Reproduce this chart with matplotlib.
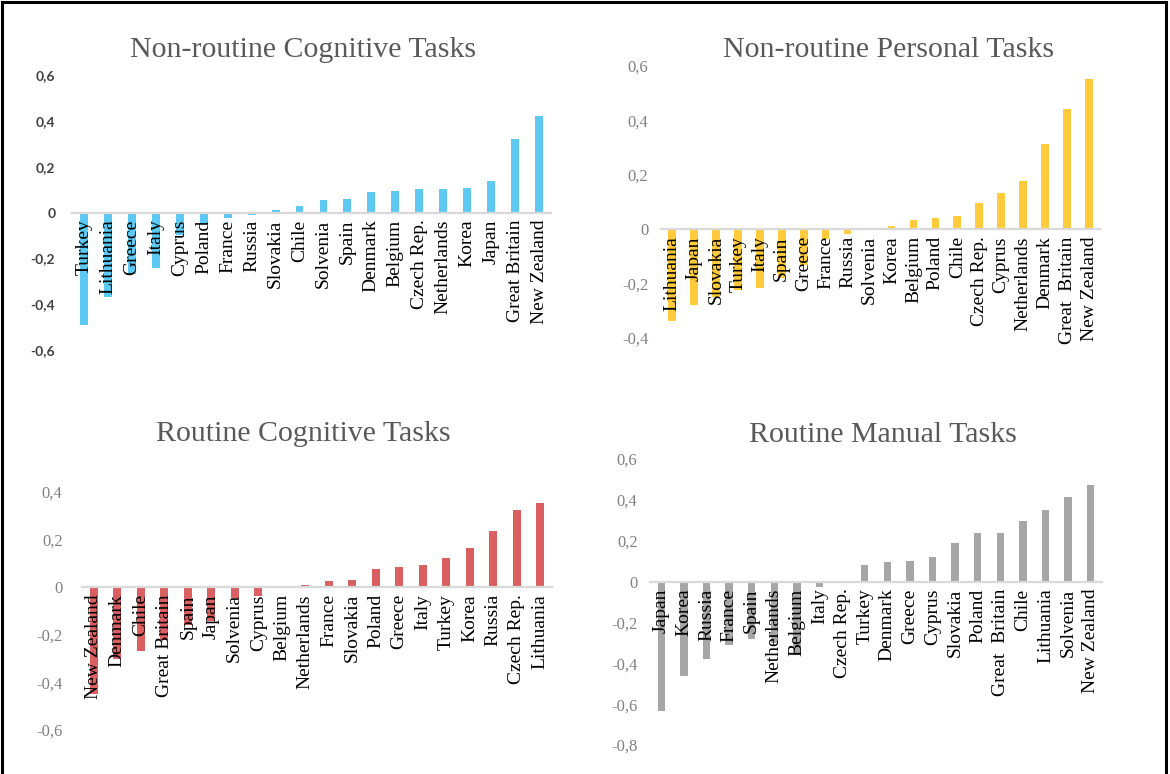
import matplotlib
matplotlib.use("Agg")
import matplotlib.pyplot as plt
from matplotlib.lines import Line2D
import numpy as np

W, H = 1170, 774

# ---- data ----
nrc_cats = ["Turkey", "Lithuania", "Greece", "Italy", "Cyprus", "Poland", "France", "Russia",
            "Slovakia", "Chile", "Solvenia", "Spain", "Denmark", "Belgium", "Czech Rep.",
            "Netherlands", "Korea", "Japan", "Great Britain", "New Zealand"]
nrc_vals = [-0.49, -0.37, -0.27, -0.24, -0.10, -0.05, -0.025, -0.012, 0.01, 0.028, 0.053,
            0.058, 0.088, 0.095, 0.104, 0.104, 0.107, 0.136, 0.32, 0.42]

nrp_cats = ["Lithuania", "Japan", "Slovakia", "Turkey", "Italy", "Spain", "Greece", "France",
            "Russia", "Solvenia", "Korea", "Belgium", "Poland", "Chile", "Czech Rep.", "Cyprus",
            "Netherlands", "Denmark", "Great  Britain", "New Zealand"]
nrp_vals = [-0.336, -0.28, -0.25, -0.225, -0.217, -0.18, -0.13, -0.037, -0.017, 0.005, 0.012,
            0.032, 0.04, 0.049, 0.096, 0.132, 0.178, 0.314, 0.441, 0.551]

rc_cats = ["New Zealand", "Denmark", "Chile", "Great Britain", "Spain", "Japan", "Solvenia",
           "Cyprus", "Belgium", "Netherlands", "France", "Slovakia", "Poland", "Greece", "Italy",
           "Turkey", "Korea", "Russia", "Czech Rep.", "Lithuania"]
rc_vals = [-0.45, -0.30, -0.266, -0.22, -0.16, -0.14, -0.045, -0.038, -0.004, 0.008, 0.028,
           0.031, 0.078, 0.084, 0.094, 0.124, 0.164, 0.235, 0.323, 0.352]

rm_cats = ["Japan", "Korea", "Russia", "France", "Spain", "Netherlands", "Belgium", "Italy",
           "Czech Rep.", "Turkey", "Denmark", "Greece", "Cyprus", "Slovakia", "Poland",
           "Great  Britain", "Chile", "Lithuania", "Solvenia", "New Zealand"]
rm_vals = [-0.632, -0.462, -0.381, -0.31, -0.28, -0.30, -0.36, -0.025, 0.005, 0.082, 0.096,
           0.101, 0.121, 0.191, 0.239, 0.239, 0.296, 0.351, 0.413, 0.471]

titles = ["Non-routine Cognitive Tasks", "Non-routine Personal Tasks",
          "Routine Cognitive Tasks", "Routine Manual Tasks"]
ticks_nrc = [-0.6, -0.4, -0.2, 0.0, 0.2, 0.4, 0.6]
ticks_nrp = [-0.4, -0.2, 0.0, 0.2, 0.4, 0.6]
ticks_rc = [-0.6, -0.4, -0.2, 0.0, 0.2, 0.4]
ticks_rm = [-0.8, -0.6, -0.4, -0.2, 0.0, 0.2, 0.4, 0.6]


def fmt(v):
    if abs(v) < 1e-9:
        return "0"
    return f"{v:.1f}".replace(".", ",")


SERIF = ["Liberation Serif", "DejaVu Serif"]

fig = plt.figure(figsize=(W / 100, H / 100), dpi=100)
fig.patch.set_facecolor("white")


def px_axes(x0, x1, y0, y1):
    return fig.add_axes([x0 / W, 1 - y1 / H, (x1 - x0) / W, (y1 - y0) / H])


panels = [
    dict(cats=nrc_cats, vals=nrc_vals, ticks=ticks_nrc, color="#5BC9F1", box=(72, 551, 75, 350),
         title_xy=(303, 50), sans=True, width=0.33, ypad=12),
    dict(cats=nrp_cats, vals=nrp_vals, ticks=ticks_nrp, color="#FFCB3D", box=(661, 1100, 66, 338),
         title_xy=(889, 50), sans=False, width=0.35, ypad=9),
    dict(cats=rc_cats, vals=rc_vals, ticks=ticks_rc, color="#D95F60", box=(82, 552, 492, 730),
         title_xy=(303, 434), sans=False, width=0.33, ypad=14),
    dict(cats=rm_cats, vals=rm_vals, ticks=ticks_rm, color="#A6A6A6", box=(650, 1102, 459, 745),
         title_xy=(883, 435), sans=False, width=0.33, ypad=9),
]

for p, title in zip(panels, titles):
    x0, x1, y0, y1 = p["box"]
    ax = px_axes(x0, x1, y0, y1)
    x = np.arange(len(p["cats"]))
    ax.bar(x, p["vals"], width=p["width"], color=p["color"], zorder=1)
    ax.set_xlim(-0.5, len(p["cats"]) - 0.5)
    ax.set_ylim(p["ticks"][0], p["ticks"][-1])
    for s in ["top", "right", "left"]:
        ax.spines[s].set_visible(False)
    ax.spines["bottom"].set_position(("data", 0))
    ax.spines["bottom"].set_color("#D9D9D9")
    ax.spines["bottom"].set_linewidth(1.6)
    ax.set_xticks(x)
    ax.set_xticklabels(p["cats"], rotation=90, fontfamily=SERIF, fontsize=14,
                       color="black", va="top", ha="center")
    ax.tick_params(axis="x", length=0, pad=5)
    ax.set_yticks(p["ticks"])
    if p["sans"]:
        ax.set_yticklabels([fmt(t) for t in p["ticks"]], fontfamily=["Lato", "DejaVu Sans"],
                           fontweight="bold", fontsize=10, color="#404040")
    else:
        ax.set_yticklabels([fmt(t) for t in p["ticks"]], fontfamily=SERIF, fontsize=12,
                           color="#808080")
    ax.tick_params(axis="y", length=0, pad=p["ypad"])
    ax.set_facecolor("none")
    tx, ty = p["title_xy"]
    fig.text(tx / W, 1 - ty / H, title, ha="center", va="center", fontfamily=SERIF,
             fontsize=21.5, color="#595959")

# outer black border (left, top, right)
lw = 2.2
fig.add_artist(Line2D([2 / W, 2 / W], [0, 1 - 2 / H], transform=fig.transFigure,
                      color="black", lw=lw))
fig.add_artist(Line2D([2 / W, 1166 / W], [1 - 2 / H, 1 - 2 / H], transform=fig.transFigure,
                      color="black", lw=lw))
fig.add_artist(Line2D([1166 / W, 1166 / W], [0, 1 - 2 / H], transform=fig.transFigure,
                      color="black", lw=lw))

fig.savefig("out.png", dpi=100)
